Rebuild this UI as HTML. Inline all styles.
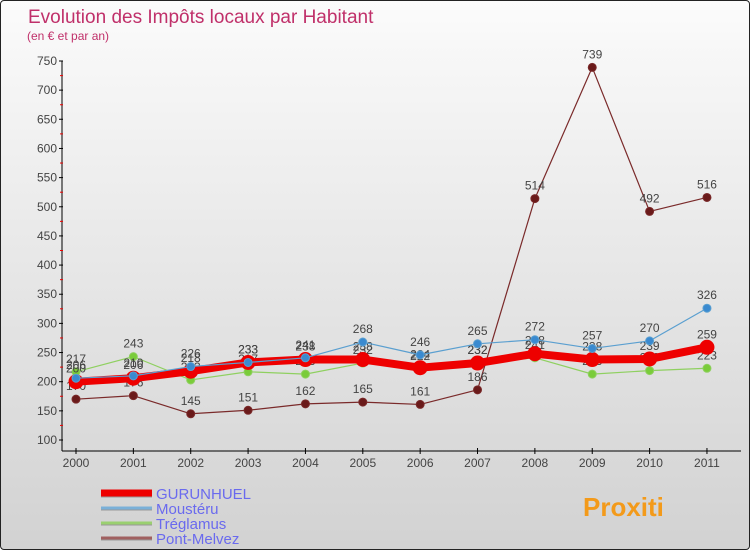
<!DOCTYPE html>
<html><head><meta charset="utf-8"><style>
body{margin:0;width:750px;height:550px;overflow:hidden;font-family:"Liberation Sans",sans-serif}
#wrap{position:absolute;left:0;top:0;width:748px;height:548px;border:1px solid #222;border-radius:4px;background:linear-gradient(#fbfbfb,#d2d2d2);overflow:hidden}
</style></head><body>
<div id="wrap">
<svg id="chart" width="750" height="550"></svg>
</div>
<script>
const years=["2000","2001","2002","2003","2004","2005","2006","2007","2008","2009","2010","2011"];
const yTicks=[100,150,200,250,300,350,400,450,500,550,600,650,700,750];
const gurunhuel=[200,206,218,233,238,238,224,232,248,238,239,259];
const moustery=[206,210,226,233,241,268,246,265,272,257,270,326];
const treglamus=[217,243,203,217,213,232,222,232,241,213,219,223];
const pontMelvez=[170,176,145,151,162,165,161,186,514,739,492,516];
const NS="http://www.w3.org/2000/svg";
const svg=document.getElementById('chart');
function X(i){return 75+i*57.36;}
function Y(v){return 439-(v-100)*379/650;}
function mk(t,a,p){const e=document.createElementNS(NS,t);for(const k in a)e.setAttribute(k,a[k]);(p||svg).appendChild(e);return e;}
let t=mk('text',{x:27,y:22,'font-size':19,fill:'#c0306a'});t.textContent='Evolution des Impôts locaux par Habitant';

t=mk('text',{x:26,y:39,'font-size':12,fill:'#c0306a'});t.textContent='(en € et par an)';

// axes
let a=mk('line',{x1:61,y1:60,x2:61,y2:450,stroke:'#000'});

a=mk('line',{x1:61,y1:450,x2:740,y2:450,stroke:'#000'});

yTicks.forEach((v,i)=>{
 mk('line',{x1:58,y1:Y(v),x2:62,y2:Y(v),stroke:'#000'});
 if(i<yTicks.length-1)mk('line',{x1:59,y1:Y(v+25),x2:62,y2:Y(v+25),stroke:'#e00'});
 const l=mk('text',{x:56,y:Y(v)+4,'font-size':12,fill:'#444','text-anchor':'end'});l.textContent=v;
 
});
years.forEach((y,i)=>{
 mk('line',{x1:X(i),y1:447,x2:X(i),y2:453,stroke:'#000'});
 const l=mk('text',{x:X(i),y:466,'font-size':12,fill:'#444','text-anchor':'middle'});l.textContent=y;
 
});
function series(data,color,dot,w,r,name,labelDy){
 const g=mk('g',{});
 mk('polyline',{points:data.map((v,i)=>X(i)+','+Y(v)).join(' '),fill:'none',stroke:color,'stroke-width':w,'stroke-linejoin':'round'},g);
 data.forEach((v,i)=>{const c=mk('circle',{cx:X(i),cy:Y(v),r:r,fill:dot,stroke:color,'stroke-width':1},g);
  
  const l=mk('text',{x:X(i),y:Y(v)+labelDy,'font-size':12,fill:'#444','text-anchor':'middle'},g);l.textContent=v;});
}
series(pontMelvez,'#7a2a2a','#6a1a1a',1.2,4,'series-pont-melvez',-9);
series(treglamus,'#8fd060','#7acc3a',1.2,4,'series-treglamus',-9);
series(gurunhuel,'#ee0000','#ee0000',8,7,'series-gurunhuel',-9);
series(moustery,'#5a9fd0','#3a8ad0',1.2,4,'series-moustery',-9);
// legend
const leg=[['GURUNHUEL','#ee0000',7],['Moustéru','#7ab0d8',3],['Tréglamus','#9ad070',3],['Pont-Melvez','#a06060',3]];
leg.forEach((d,i)=>{const y=492+i*15;
 const g=mk('g',{});
 mk('line',{x1:100,y1:y+1,x2:151,y2:y+1,stroke:'#999','stroke-width':d[2]},g);
 mk('line',{x1:100,y1:y,x2:151,y2:y,stroke:d[1],'stroke-width':d[2]},g);
 const l=mk('text',{x:155,y:y+6,'font-size':15,fill:'#6a6aee'},g);l.textContent=d[0];});
t=mk('text',{x:582,y:515,'font-size':26,'font-weight':'bold',fill:'#f39a1a'});t.textContent='Proxiti';

</script>
</body></html>
